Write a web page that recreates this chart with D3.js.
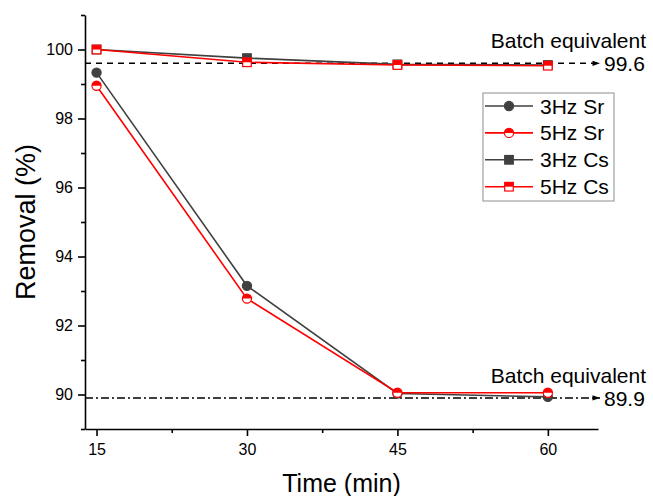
<!DOCTYPE html>
<html>
<head>
<meta charset="utf-8">
<script src="https://cdn.jsdelivr.net/npm/d3@7"></script>
<style>
  html, body { margin: 0; padding: 0; background: #fff; }
  svg { display: block; font-family: Arial, "Liberation Sans", sans-serif; }
</style>
</head>
<body>
<svg id="chart" width="653" height="496"></svg>
<script>
// ---- data ----
const times = [15, 30, 45, 60];
const sr3Hz = [99.33, 93.15, 90.03, 89.93];
const sr5Hz = [98.95, 92.78, 90.05, 90.05];
const cs3Hz = [100.0, 99.75, 99.57, 99.55];
const cs5Hz = [100.0, 99.63, 99.55, 99.53];
const seriesNames = ["3Hz Sr", "5Hz Sr", "3Hz Cs", "5Hz Cs"];
const xTicks = [15, 30, 45, 60];
const xMinorTicks = [22.5, 37.5, 52.5];
const yTicks = [90, 92, 94, 96, 98, 100];
const yMinorTicks = [89, 91, 93, 95, 97, 99, 101];
const batchValues = [99.6, 89.9];
const batchLabel = "Batch equivalent";
const xTitle = "Time (min)";
const yTitle = "Removal (%)";

// ---- layout ----
const svg = d3.select("#chart");
const x = d3.scaleLinear().domain([13.85, 65]).range([85, 598]);
const y = d3.scaleLinear().domain([89, 101]).range([429, 15]);
const dark = "#404040", red = "#ff0000";

const series = [
  { name: seriesNames[0], values: sr3Hz, color: dark, shape: "circle", half: false },
  { name: seriesNames[1], values: sr5Hz, color: red,  shape: "circle", half: true },
  { name: seriesNames[2], values: cs3Hz, color: dark, shape: "square", half: false },
  { name: seriesNames[3], values: cs5Hz, color: red,  shape: "square", half: true }
];

// arrow marker
const defs = svg.append("defs");
defs.append("marker")
  .attr("id", "arrow").attr("viewBox", "0 0 10 10")
  .attr("refX", 10).attr("refY", 5)
  .attr("markerWidth", 7).attr("markerHeight", 5)
  .attr("markerUnits", "strokeWidth")
  .attr("orient", "auto")
  .append("path").attr("d", "M0,1.5 L10,5 L0,8.5 Z").attr("fill", "#000");

// ---- axes ----
const axisW = 1.6;
svg.append("g").attr("transform", `translate(0,${y.range()[0]})`)
  .call(d3.axisBottom(x).tickValues(xTicks).tickSize(7).tickSizeOuter(0).tickPadding(8).tickFormat(d3.format("d")));
svg.append("g").attr("transform", `translate(0,${y.range()[0]})`)
  .call(d3.axisBottom(x).tickValues(xMinorTicks).tickSize(4).tickSizeOuter(0).tickFormat(""))
  .select(".domain").remove();
svg.append("g").attr("transform", `translate(${x.range()[0]},0)`)
  .call(d3.axisLeft(y).tickValues(yTicks).tickSize(7).tickSizeOuter(0).tickPadding(5).tickFormat(d3.format("d")));
svg.append("g").attr("transform", `translate(${x.range()[0]},0)`)
  .call(d3.axisLeft(y).tickValues(yMinorTicks).tickSize(4).tickSizeOuter(0).tickFormat(""))
  .select(".domain").remove();
svg.selectAll(".domain, .tick line").attr("stroke", "#000").attr("stroke-width", axisW);
svg.selectAll(".tick text").attr("font-size", 16).attr("fill", "#000")
  .attr("font-family", "Arial, 'Liberation Sans', sans-serif");

// axis titles
svg.append("text").attr("x", (x.range()[0] + x.range()[1]) / 2).attr("y", 492)
  .attr("text-anchor", "middle").attr("font-size", 25).attr("fill", "#000").text(xTitle);
svg.append("text").attr("transform", `translate(35,${(y.range()[0] + y.range()[1]) / 2}) rotate(-90)`)
  .attr("text-anchor", "middle").attr("font-size", 27).attr("fill", "#000").text(yTitle);

// ---- batch equivalent reference lines ----
const dashes = ["6,5", "8,3,2,3"];
batchValues.forEach((v, i) => {
  const yy = y(v);
  svg.append("line")
    .attr("x1", x.range()[0]).attr("x2", x.range()[1] + 2)
    .attr("y1", yy).attr("y2", yy)
    .attr("stroke", "#000").attr("stroke-width", 1.5)
    .attr("stroke-dasharray", dashes[i])
    .attr("marker-end", "url(#arrow)");
  svg.append("text").attr("x", x.range()[1] + 6).attr("y", yy + 8)
    .attr("font-size", 21).attr("fill", "#000").text(String(v));
  svg.append("text").attr("x", 646).attr("y", yy - 15)
    .attr("text-anchor", "end").attr("font-size", 21).attr("fill", "#000").text(batchLabel);
});

// ---- markers ----
function drawMarker(g, s, r) {
  if (s.shape === "circle") {
    if (s.half) {
      g.append("circle").attr("r", r).attr("fill", "#fff");
      g.append("path").attr("d", `M${-r},0 A${r},${r} 0 0 1 ${r},0 Z`).attr("fill", s.color);
      g.append("circle").attr("r", r).attr("fill", "none").attr("stroke", s.color).attr("stroke-width", 1.2);
    } else {
      g.append("circle").attr("r", r).attr("fill", s.color).attr("stroke", s.color).attr("stroke-width", 1.2);
    }
  } else {
    if (s.half) {
      g.append("rect").attr("x", -r).attr("y", -r).attr("width", 2 * r).attr("height", 2 * r).attr("fill", "#fff");
      g.append("rect").attr("x", -r).attr("y", -r).attr("width", 2 * r).attr("height", r).attr("fill", s.color);
      g.append("rect").attr("x", -r).attr("y", -r).attr("width", 2 * r).attr("height", 2 * r)
        .attr("fill", "none").attr("stroke", s.color).attr("stroke-width", 1.2);
    } else {
      g.append("rect").attr("x", -r).attr("y", -r).attr("width", 2 * r).attr("height", 2 * r)
        .attr("fill", s.color).attr("stroke", s.color).attr("stroke-width", 1.2);
    }
  }
}

// ---- series ----
const line = d3.line().x(d => x(d[0])).y(d => y(d[1]));
series.forEach(s => {
  const pts = times.map((t, i) => [t, s.values[i]]);
  const g = svg.append("g");
  g.append("path").datum(pts).attr("d", line)
    .attr("fill", "none").attr("stroke", s.color).attr("stroke-width", 1.6);
  pts.forEach(p => {
    const mg = g.append("g").attr("transform", `translate(${x(p[0])},${y(p[1])})`);
    drawMarker(mg, s, s.shape === "circle" ? 4.6 : 4.3);
  });
});

// ---- legend ----
const lg = svg.append("g").attr("transform", "translate(483,93)");
lg.append("rect").attr("width", 131).attr("height", 108)
  .attr("fill", "#fff").attr("stroke", "#a0a0a0").attr("stroke-width", 1.2);
series.forEach((s, i) => {
  const yy = 13 + i * 26.9;
  lg.append("line").attr("x1", 2).attr("x2", 50).attr("y1", yy).attr("y2", yy)
    .attr("stroke", s.color).attr("stroke-width", 1.6);
  const mg = lg.append("g").attr("transform", `translate(26,${yy})`);
  drawMarker(mg, s, s.shape === "circle" ? 4.6 : 4.3);
  lg.append("text").attr("x", 57).attr("y", yy + 7.5).attr("font-size", 21).attr("fill", "#000").text(s.name);
});
</script>
</body>
</html>
